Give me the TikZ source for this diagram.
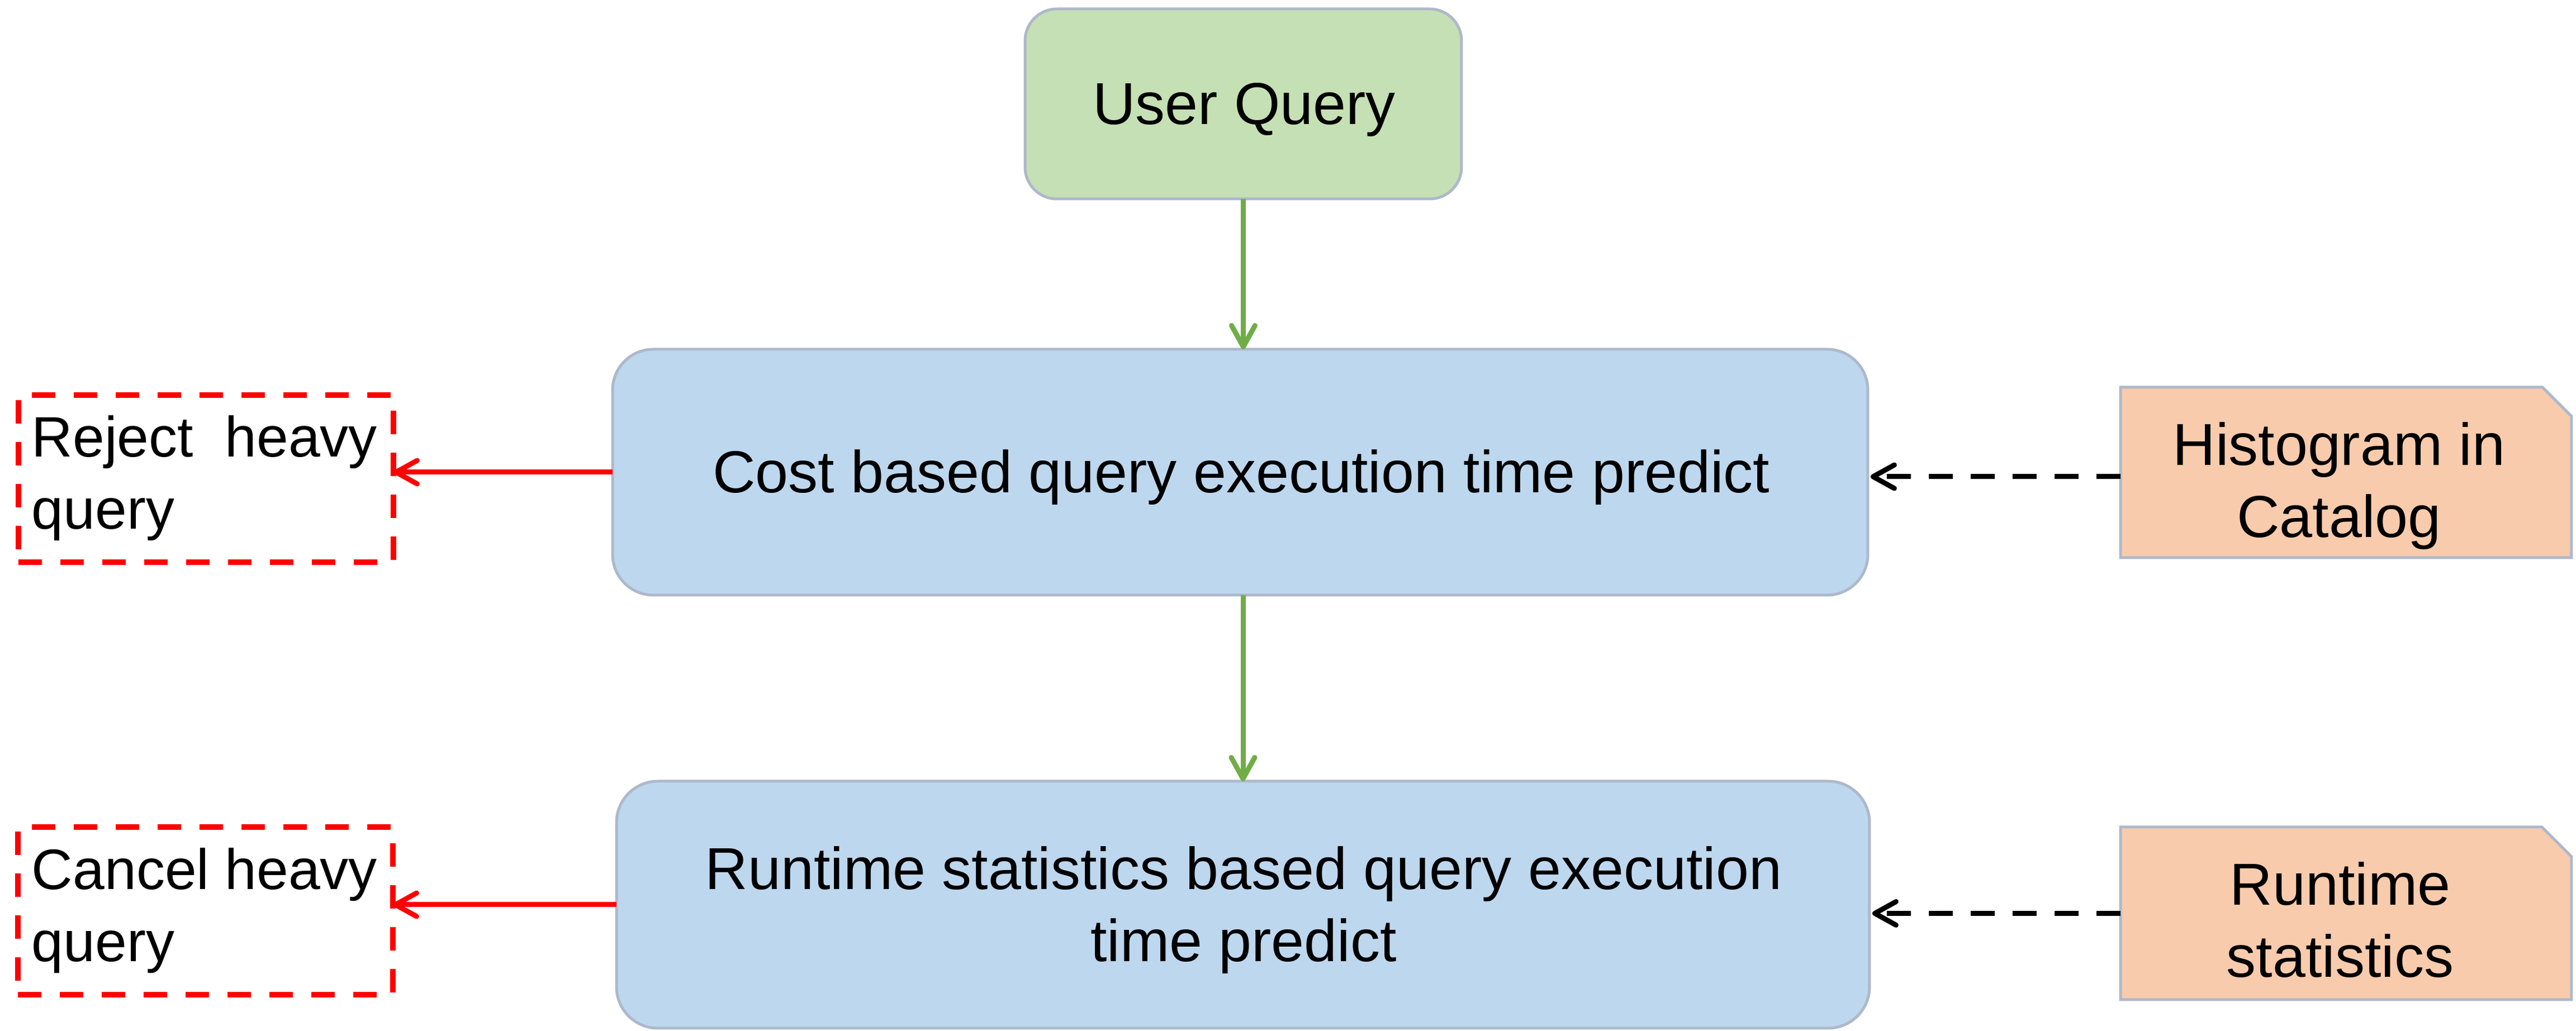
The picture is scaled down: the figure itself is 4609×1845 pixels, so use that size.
\documentclass[tikz,border=0pt]{standalone}
\usepackage{fontspec}
\setmainfont{Liberation Sans}
\usetikzlibrary{arrows.meta}
\definecolor{bordergray}{RGB}{173,185,202}
\definecolor{uqgreen}{RGB}{197,224,180}
\definecolor{procblue}{RGB}{189,215,238}
\definecolor{srcorange}{RGB}{248,203,173}
\definecolor{arrowgreen}{RGB}{112,173,71}
\definecolor{pureRed}{RGB}{255,0,0}
\begin{document}
\begin{tikzpicture}[x=0.1pt,y=-0.1pt,
  shapebox/.style={draw=bordergray, line width=0.5pt, inner sep=0pt, outer sep=0pt},
  plainbox/.style={inner sep=0pt, outer sep=0pt},
  snipbox/.style={draw=bordergray, line width=0.5pt, fill=srcorange, line join=miter},
  redbox/.style={draw=pureRed, line width=1pt, dash pattern=on 4.2pt off 3.3pt, inner sep=0pt, outer sep=0pt},
  txt/.style={font=\fontsize{10.6}{12.9}\selectfont, inner sep=0pt, outer sep=0pt},
  smalltxt/.style={font=\fontsize{10.2}{12.9}\selectfont, inner sep=0pt, outer sep=0pt},
  tipV/.style={-{Straight Barb[length=3.8pt,width=4.2pt,round]}},
  garrow/.style={draw=arrowgreen, line width=0.9pt, tipV},
  rarrow/.style={draw=pureRed, line width=0.9pt, tipV},
  darrow/.style={draw=black, line width=0.9pt, dash pattern=on 4.3pt off 3.2pt, tipV, shorten >=0.5pt}
]
\useasboundingbox (0,0) rectangle (4609,1845);

% main boxes
\node[shapebox, fill=uqgreen, rounded corners=5.7pt, minimum width=78.1pt, minimum height=34pt] (uq) at (2224.5,186) {};
\node[txt, anchor=base] (uqt) at (2226,223) {User Query};

\node[shapebox, fill=procblue, rounded corners=7.3pt, minimum width=224.6pt, minimum height=44pt] (cost) at (2219,845) {};
\node[txt, anchor=base] (costt) at (2221,882) {Cost based query execution time predict};

\node[shapebox, fill=procblue, rounded corners=7.4pt, minimum width=224.2pt, minimum height=44.2pt] (run) at (2224,1619) {};
\node[txt, anchor=base] (runt) at (2225,1592) {\begin{tabular}[t]{@{}c@{}}Runtime statistics based query execution\\time predict\end{tabular}};

% action boxes
\node[redbox, minimum width=67.1pt, minimum height=29.9pt] (rej) at (368.5,856.5) {};
\node[smalltxt, anchor=base west] (rejt) at (57,818) {\begin{tabular}[t]{@{}l@{}}Reject\ \ heavy\\query\end{tabular}};

\node[redbox, minimum width=67.1pt, minimum height=30pt] (can) at (367.5,1630) {};
\node[smalltxt, anchor=base west] (cant) at (57,1592) {\begin{tabular}[t]{@{}l@{}}Cancel heavy\\query\end{tabular}};

% source boxes (snipped corner)
\node[plainbox, minimum width=80.7pt, minimum height=30.5pt] (hist) at (4197.5,845.5) {};
\draw[snipbox] (hist.south west) -- (hist.north west) -- ([xshift=-5.2pt]hist.north east) -- ([yshift=-5.2pt]hist.north east) -- (hist.south east) -- cycle;
\node[txt, anchor=base] (histt) at (4185,833) {\begin{tabular}[t]{@{}c@{}}Histogram in\\Catalog\end{tabular}};

\node[plainbox, minimum width=80.7pt, minimum height=30.9pt] (rs) at (4197.5,1634.5) {};
\draw[snipbox] (rs.south west) -- (rs.north west) -- ([xshift=-5.3pt]rs.north east) -- ([yshift=-5.3pt]rs.north east) -- (rs.south east) -- cycle;
\node[txt, anchor=base] (rst) at (4187,1620) {\begin{tabular}[t]{@{}c@{}}Runtime\\statistics\end{tabular}};

% connectors
\draw[garrow] (uq.south) -- (uq.south |- cost.north);
\draw[garrow] (run.north |- cost.south) -- (run.north);
\draw[rarrow] (cost.west) -- (cost.west -| rej.east);
\draw[rarrow] (run.west) -- (run.west -| can.east);
\draw[darrow] ([yshift=-0.75pt]hist.west) -- ([yshift=-0.75pt]hist.west -| cost.east);
\draw[darrow] (rs.west) -- (rs.west -| run.east);
\end{tikzpicture}
\end{document}
